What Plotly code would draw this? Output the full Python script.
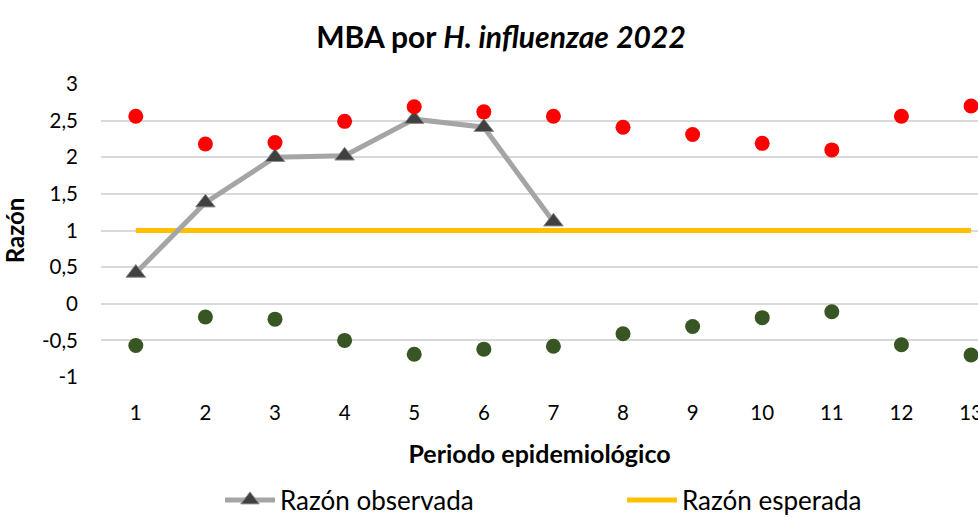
import plotly.graph_objects as go

periodos = list(range(1, 14))
razon_observada = [0.42, 1.38, 2.0, 2.02, 2.52, 2.41, 1.12]
razon_esperada = [1] * 13
limite_superior = [2.56, 2.18, 2.20, 2.49, 2.69, 2.62, 2.56, 2.41, 2.31, 2.19, 2.10, 2.56, 2.70]
limite_inferior = [-0.57, -0.18, -0.21, -0.50, -0.69, -0.62, -0.58, -0.41, -0.31, -0.19, -0.11, -0.56, -0.70]
y_ticks = [-1, -0.5, 0, 0.5, 1, 1.5, 2, 2.5, 3]
y_tick_labels = ["-1", "-0,5", "0", "0,5", "1", "1,5", "2", "2,5", "3"]

FONT = "Lato"
W, H = 978, 520

fig = go.Figure()
fig.add_trace(go.Scatter(
    x=periodos, y=razon_esperada, mode="lines", name="Razón esperada",
    line=dict(color="#ffc000", width=5), cliponaxis=False))
fig.add_trace(go.Scatter(
    x=periodos[:len(razon_observada)], y=razon_observada, mode="lines+markers",
    name="Razón observada",
    line=dict(color="#a5a5a5", width=5),
    marker=dict(symbol="triangle-up", size=17, color="#404040",
                line=dict(color="#8c8c8c", width=1)),
    cliponaxis=False))
fig.add_trace(go.Scatter(
    x=periodos, y=limite_superior, mode="markers", showlegend=False,
    marker=dict(size=15, color="#ff0000"), cliponaxis=False))
fig.add_trace(go.Scatter(
    x=periodos, y=limite_inferior, mode="markers", showlegend=False,
    marker=dict(size=15, color="#375623"), cliponaxis=False))

fig.update_layout(
    width=W, height=H,
    margin=dict(l=101, r=0, t=84, b=H - 84 - 293, autoexpand=False),
    paper_bgcolor="white", plot_bgcolor="white",
    separators=", ",
    font=dict(family=FONT, size=20.5, color="#000000"),
    title=dict(text="<b>MBA por <i>H. influenzae</i> <i>2022</i></b>",
               x=501 / W, xref="container", xanchor="center",
               y=1 - 37 / H, yref="container", yanchor="middle",
               automargin=False,
               font=dict(family=FONT, size=30, color="#000000")),
    xaxis=dict(range=[0.5, 13.1], tickmode="array", tickvals=periodos,
               showgrid=False, zeroline=False, showline=False,
               ticklabelstandoff=21, automargin=False, ticklabeloverflow="allow",
               title=dict(text="<b>Periodo epidemiológico</b>", standoff=22,
                          font=dict(family=FONT, size=25))),
    yaxis=dict(range=[-1, 3], tickmode="array", tickvals=y_ticks,
               ticktext=y_tick_labels,
               showgrid=True, gridcolor="#d9d9d9", gridwidth=1.5,
               zeroline=False, showline=False, ticklabelstandoff=22,
               automargin=False,
               title=dict(text="<b>Razón</b>", standoff=10,
                          font=dict(family=FONT, size=24))),
    legend=dict(orientation="h", x=220 / W, xref="container", y=20 / H,
                yref="container", yanchor="middle", xanchor="left",
                traceorder="reversed", itemwidth=50,
                entrywidth=337, entrywidthmode="pixels",
                font=dict(family=FONT, size=26)),
)

fig.write_html(
    "out.html",
    config={"displayModeBar": False},
    post_script="document.body.style.margin='0';document.body.style.overflow='hidden';",
)
